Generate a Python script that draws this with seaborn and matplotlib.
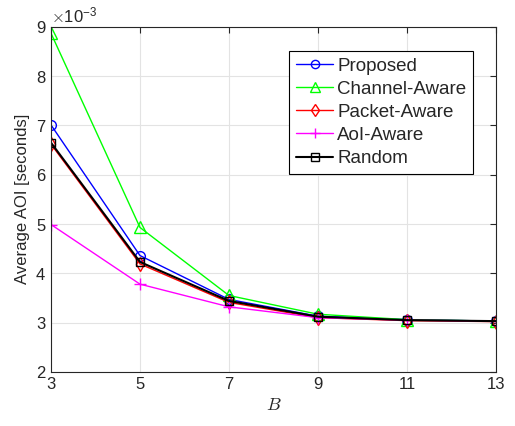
import seaborn as sns
import matplotlib.pyplot as plt
import matplotlib.ticker as mticker
import pandas as pd
import numpy as np

# data (seconds)
B = [3, 5, 7, 9, 11, 13]
proposed = [7.01e-3, 4.36e-3, 3.47e-3, 3.13e-3, 3.06e-3, 3.03e-3]
channel_aware = [8.87e-3, 4.93e-3, 3.55e-3, 3.17e-3, 3.06e-3, 3.03e-3]
packet_aware = [6.62e-3, 4.19e-3, 3.41e-3, 3.10e-3, 3.04e-3, 3.02e-3]
aoi_aware = [4.99e-3, 3.78e-3, 3.32e-3, 3.10e-3, 3.05e-3, 3.03e-3]
random_sel = [6.65e-3, 4.23e-3, 3.44e-3, 3.12e-3, 3.05e-3, 3.03e-3]

series = [
    ("Proposed", proposed, "#0000FF", "o", 7, 1.0),
    ("Channel-Aware", channel_aware, "#00FF00", "^", 8, 1.0),
    ("Packet-Aware", packet_aware, "#FF0000", "d", 7, 1.0),
    ("AoI-Aware", aoi_aware, "#FF00FF", "+", 8, 1.0),
    ("Random", random_sel, "#000000", "s", 6, 1.5),
]

sns.set_style("white")
plt.rcParams['font.family'] = ['Liberation Sans', 'DejaVu Sans']
plt.rcParams['mathtext.fontset'] = 'cm'

fig = plt.figure(figsize=(5.15, 4.26), dpi=100)
ax = fig.add_axes([0.099, 0.127, 0.864, 0.81])

for name, vals, col, mk, ms, lw in series:
    sns.lineplot(x=B, y=vals, ax=ax, color=col, marker=mk, markersize=ms,
                 markerfacecolor='none', markeredgecolor=col,
                 markeredgewidth=1.0, linewidth=lw, label=name)

ax.set_xlim(3, 13)
ax.set_ylim(2e-3, 9e-3)
ax.set_xticks(B)
ax.set_yticks(np.arange(2, 10) * 1e-3)
fmt = mticker.ScalarFormatter(useMathText=True)
fmt.set_powerlimits((-2, 2))
ax.yaxis.set_major_formatter(fmt)
ax.yaxis.get_offset_text().set_fontsize(12)

ax.grid(True, color='#e3e3e3', linewidth=0.8)
for sp in ax.spines.values():
    sp.set_color('#262626')
    sp.set_linewidth(0.8)
ax.tick_params(direction='in', top=True, right=True, labelsize=12,
               length=4, color='#262626', labelcolor='#262626')

ax.set_xlabel("$B$", fontsize=13, color='#262626')
ax.set_ylabel("Average AOI [seconds]", fontsize=12, color='#262626')

leg = ax.legend(loc='upper right', bbox_to_anchor=(0.948, 0.930), fontsize=13.5,
                frameon=True, fancybox=False, framealpha=1, edgecolor='black',
                handlelength=2.0, handletextpad=0.2, borderpad=0.35,
                labelspacing=0.32, borderaxespad=0.0, markerscale=0.85)
leg.get_frame().set_linewidth(0.8)

plt.savefig("out.png", dpi=100)
